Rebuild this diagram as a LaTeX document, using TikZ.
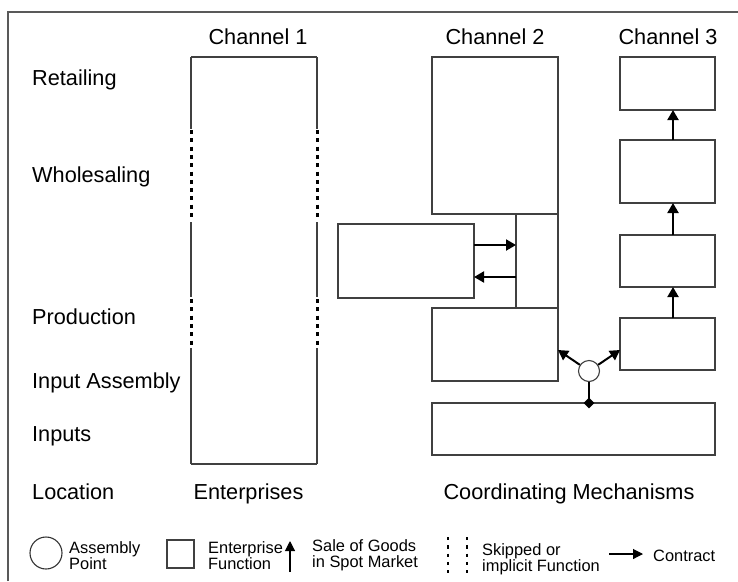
\documentclass[tikz,border=0pt]{standalone}
\usepackage{fontspec}
\setmainfont{Liberation Sans}
\usetikzlibrary{arrows.meta,shapes.geometric,calc}
\tikzset{
  fbox/.style={draw=black!75, line width=1.1pt, inner sep=0pt, outer sep=0pt, anchor=north west},
  lbl/.style={font=\fontsize{21.7}{26}\selectfont, inner sep=0pt, anchor=base west},
  lbc/.style={font=\fontsize{21.7}{26}\selectfont, inner sep=0pt, anchor=base},
  leg/.style={font=\fontsize{16.4}{15.5}\selectfont, inner sep=0pt, anchor=north west, align=left},
  contract/.style={line width=2pt, -{Triangle[length=10pt,width=11pt]}},
  thincontract/.style={line width=1.1pt, -{Triangle[length=10pt,width=10pt]}},
  skip/.style={line width=3pt, dash pattern=on 4pt off 4.3pt},
  legskip/.style={line width=2.2pt, dash pattern=on 3.3pt off 5pt},
  side/.style={draw=black!75, line width=1.1pt},
  frame/.style={draw=black!65, line width=1.3pt},
}
\begin{document}
\begin{tikzpicture}[x=1pt,y=-1pt]
\useasboundingbox (0,0) rectangle (738,581);
% frame
\draw[frame] (8,581) -- (8,12) -- (738,12);

% headings
\node[lbc] (h1) at (258,44) {Channel 1};
\node[lbc] (h2) at (495,44) {Channel 2};
\node[lbc] (h3) at (668,44) {Channel 3};

% row labels
\node[lbl] (lret) at (32,85) {Retailing};
\node[lbl] (lwho) at (32,182) {Wholesaling};
\node[lbl] (lpro) at (32,324) {Production};
\node[lbl] (lia)  at (32,388) {Input Assembly};
\node[lbl] (linp) at (32,441) {Inputs};
\node[lbl] (lloc) at (32,499) {Location};
\node[lbc] (lent) at (248.5,499) {Enterprises};
\node[lbc] (lcoo) at (569,499) {Coordinating Mechanisms};

% Channel 1 (enterprise with skipped functions)
\node[inner sep=0pt, outer sep=0pt, anchor=north west, minimum width=126pt, minimum height=407pt] (c1) at (191,57) {};
\draw[side] (c1.north west) -- (c1.north east);
\draw[side] (c1.south west) -- (c1.south east);
\foreach \xx in {191,317}{
  \draw[side] (\xx,57) -- (\xx,129);
  \draw[skip] (\xx,130) -- (\xx,220);
  \draw[side] (\xx,222) -- (\xx,297);
  \draw[skip] (\xx,299) -- (\xx,346);
  \draw[side] (\xx,348) -- (\xx,464);
}

% Channel 2
\node[fbox, minimum width=126pt, minimum height=157pt] (c2top) at (432,57) {};
\node[fbox, minimum width=42pt, minimum height=94pt] (strip) at (516,214) {};
\node[fbox, minimum width=136pt, minimum height=74pt] (lbox) at (338,224) {};
\node[fbox, minimum width=126pt, minimum height=73pt] (c2pro) at (432,308) {};
\draw[contract] ([yshift=16pt]lbox.east) -- ([yshift=16pt]lbox.east -| strip.west);
\draw[contract] ([yshift=-16pt]lbox.east -| strip.west) -- ([yshift=-16pt]lbox.east);

% Channel 3
\node[fbox, minimum width=95pt, minimum height=53pt] (b1) at (620,57) {};
\node[fbox, minimum width=95pt, minimum height=63pt] (b2) at (620,140) {};
\node[fbox, minimum width=95pt, minimum height=52pt] (b3) at (620,235) {};
\node[fbox, minimum width=95pt, minimum height=52pt] (b4) at (620,318) {};
\draw[contract] ([xshift=5.5pt]b2.north) -- ([xshift=5.5pt]b1.south);
\draw[contract] ([xshift=5.5pt]b3.north) -- ([xshift=5.5pt]b2.south);
\draw[contract] ([xshift=5.5pt]b4.north) -- ([xshift=5.5pt]b3.south);

% Inputs box
\node[fbox, minimum width=283pt, minimum height=52pt] (inp) at (432,403) {};

% assembly point
\node[circle, draw=black!75, line width=1.1pt, fill=white, minimum size=21pt, inner sep=0pt] (ap) at (589,371) {};
\draw[contract] (ap.146) -- ([yshift=-5.5pt]c2pro.east);
\draw[contract] (ap.34) -- ([yshift=-6pt]b4.west);
\node[diamond, fill=black, inner sep=0pt, minimum width=11pt, minimum height=11pt] (dm) at (ap.south |- inp.north) {};
\draw[line width=2pt] (ap.south) -- (dm.center);

% legend
\node[circle, draw=black!80, line width=1.1pt, minimum size=32pt, inner sep=0pt] (legc) at (46,553) {};
\node[leg] (t1) at (69,541.5) {Assembly\\Point};
\node[fbox, minimum width=27pt, minimum height=28pt] (legsq) at (167,540) {};
\node[leg] (t2) at (208,541.5) {Enterprise\\Function};
\coordinate (sa1) at (290,572);
\coordinate (sa2) at (290,541);
\draw[thincontract] (sa1) -- (sa2);
\node[leg] (t3) at (312,539.5) {Sale of Goods\\in Spot Market};
\draw[legskip] (448,537) -- (448,573);
\draw[legskip] (467,537) -- (467,573);
\node[leg] (t4) at (482,543.5) {Skipped or\\implicit Function};
\coordinate (ca1) at (609,554);
\coordinate (ca2) at (643,554);
\draw[thincontract] (ca1) -- (ca2);
\node[leg, anchor=base west] (t5) at (653,561) {Contract};
\end{tikzpicture}
\end{document}
